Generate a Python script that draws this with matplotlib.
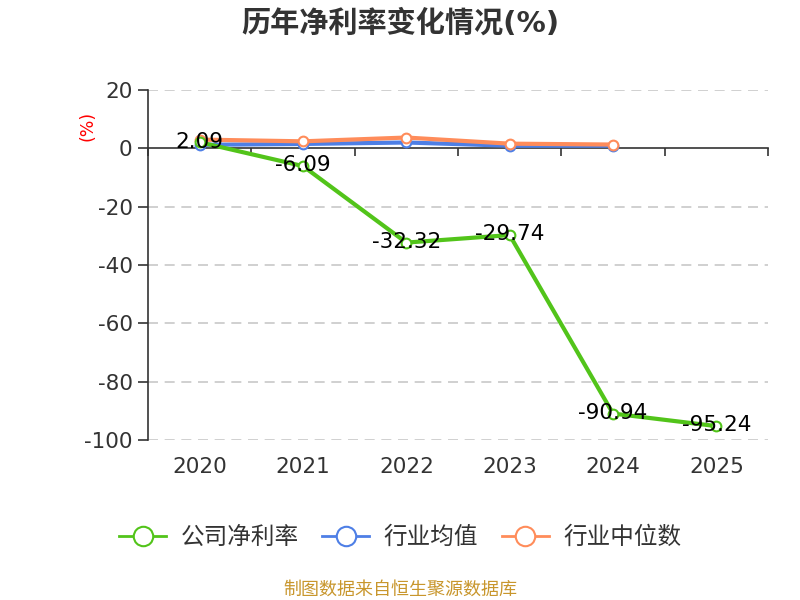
import matplotlib
matplotlib.use("Agg")
import matplotlib.pyplot as plt
import numpy as np

plt.rcParams['font.family'] = ['DejaVu Sans', 'Noto Sans CJK SC']
plt.rcParams['axes.unicode_minus'] = False

years = ["2020", "2021", "2022", "2023", "2024", "2025"]
company = [2.09, -6.09, -32.32, -29.74, -90.94, -95.24]
industry_mean = [1.2, 1.5, 2.0, 0.9, 0.9]
industry_median = [3.0, 2.4, 3.7, 1.6, 1.3]

GREEN = "#52C41A"
BLUE = "#4E7FE6"
ORANGE = "#FF8C5A"

fig = plt.figure(figsize=(8, 6), dpi=100)
ax = fig.add_axes([0.185, 0.2667, 0.775, 0.5833])

x = np.arange(len(years))
mk = dict(marker="o", markersize=7, markerfacecolor="white", markeredgewidth=1.5)
ax.plot(x[:len(industry_mean)], industry_mean, color=BLUE, lw=3,
        markeredgecolor=BLUE, label="行业均值", zorder=3, **mk)
ax.plot(x[:len(industry_median)], industry_median, color=ORANGE, lw=3,
        markeredgecolor=ORANGE, label="行业中位数", zorder=4, **mk)
ax.plot(x, company, color=GREEN, lw=3, markeredgecolor=GREEN,
        label="公司净利率", zorder=5, **mk)

for xi, v in zip(x, company):
    ax.annotate(f"{v:.2f}", (xi, v), xytext=(0, 0.5), textcoords="offset points",
                ha="center", va="center", fontsize=15.5, color="black", zorder=6)

ax.set_xlim(-0.5, len(years) - 0.5)
ax.set_ylim(-100, 20)
ax.set_yticks([20, 0, -20, -40, -60, -80, -100])
for yv in [20, -20, -40, -60, -80, -100]:
    ax.axhline(yv, color="#c8c8c8", lw=1.2, ls=(0, (6, 4)), zorder=1)

for s in ["top", "right"]:
    ax.spines[s].set_visible(False)
ax.spines["left"].set_color("#333333")
ax.spines["left"].set_linewidth(1.2)
ax.spines["bottom"].set_position(("data", 0))
ax.spines["bottom"].set_color("#333333")
ax.spines["bottom"].set_linewidth(1.2)

ax.set_xticks(np.arange(-0.5, len(years), 1.0))
ax.tick_params(axis="x", length=6, width=1.2, color="#333333", labelbottom=False)
ax.tick_params(axis="y", length=7, width=1.2, color="#333333",
               labelsize=15.5, labelcolor="#333333", pad=4)

sec = ax.secondary_xaxis("bottom")
sec.set_xticks(x)
sec.set_xticklabels(years)
sec.tick_params(length=0, labelsize=15.5, labelcolor="#333333", pad=12)
sec.spines["bottom"].set_visible(False)

fig.text(0.11, 0.79, "(%)", color="red", rotation=90, fontsize=12.5,
         ha="center", va="center")

fig.suptitle("历年净利率变化情况(%)", fontsize=21, fontweight="bold",
             color="#333333", y=0.985)

leg = ax.legend(handles=[ax.lines[2], ax.lines[0], ax.lines[1]],
                loc="center", bbox_to_anchor=(0.5, 0.105), bbox_transform=fig.transFigure,
                ncol=3, frameon=False, fontsize=17, handlelength=2.0,
                columnspacing=1.0, handletextpad=0.6, markerscale=2.0)
for t in leg.get_texts():
    t.set_color("#333333")
for h in leg.legend_handles:
    h.set_linewidth(2)

fig.text(0.5, 0.018, "制图数据来自恒生聚源数据库", color="#C8962C",
         fontsize=13, ha="center", va="center")

fig.savefig("out.png", dpi=100)
